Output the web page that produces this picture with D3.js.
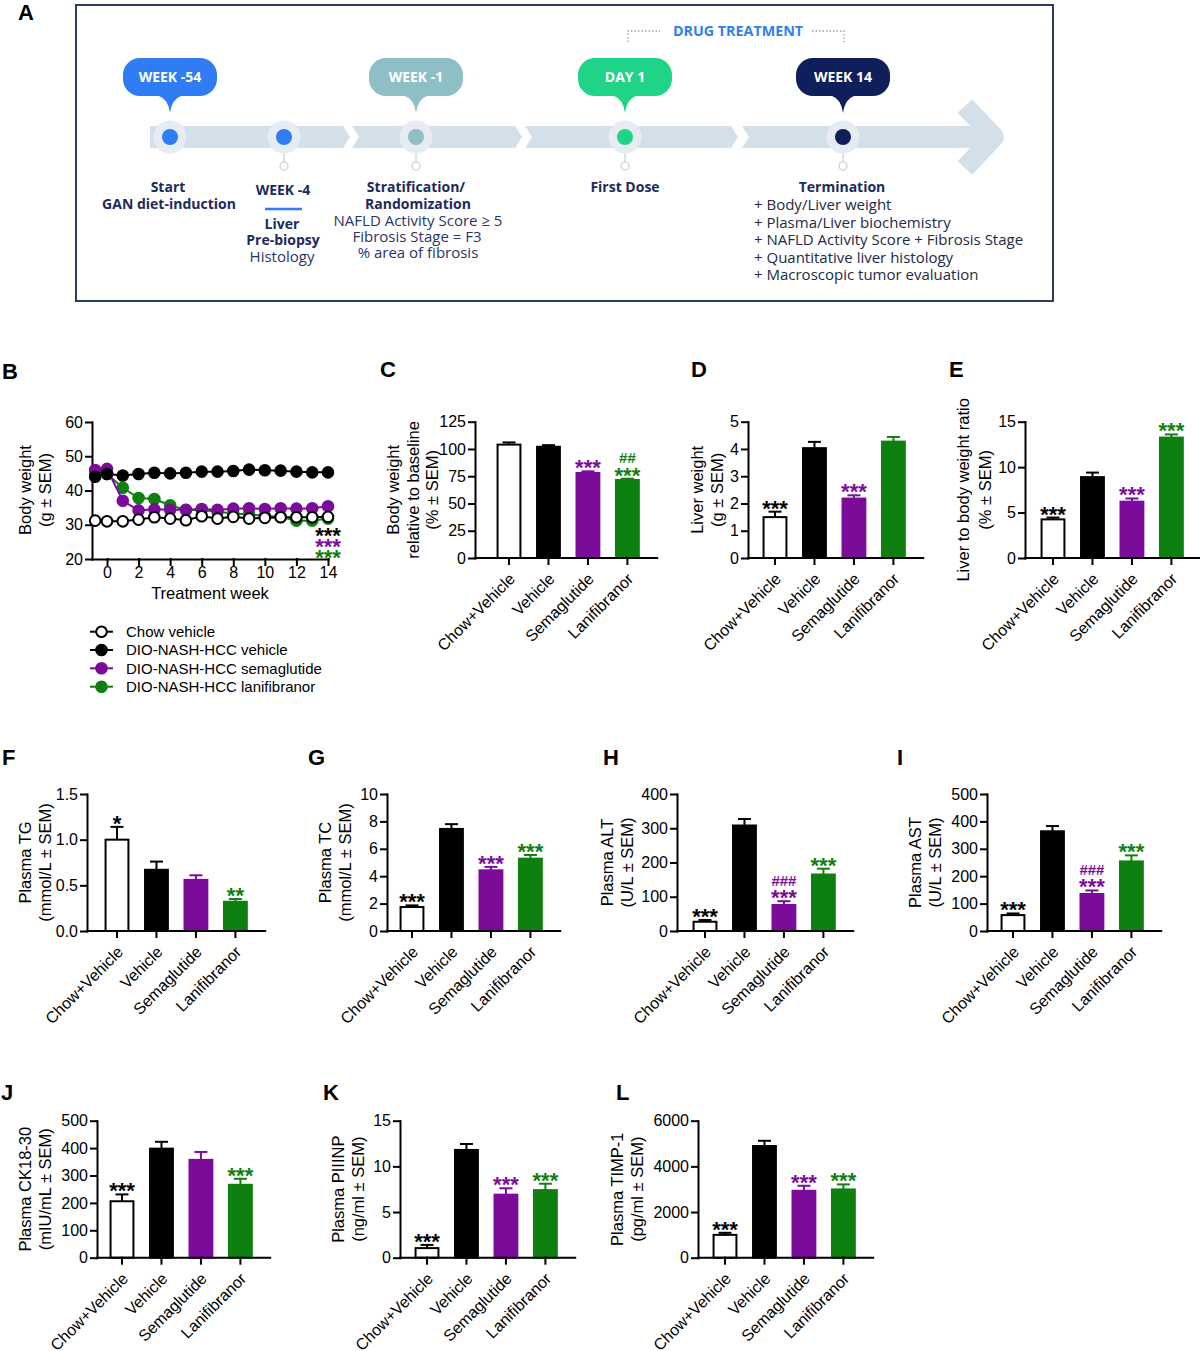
<!DOCTYPE html>
<html><head><meta charset="utf-8">
<script src="https://cdn.jsdelivr.net/npm/d3@7"></script>
<style>body{margin:0;background:#fff} svg{display:block}</style>
</head><body>
<svg id="fig" width="1200" height="1351"></svg>
<script>
// ---------------- DATA ----------------
const groups = ["Chow+Vehicle","Vehicle","Semaglutide","Lanifibranor"];

// Panel A timeline
const bubbleLabels = ["WEEK -54","WEEK -1","DAY 1","WEEK 14"];
const drugTreatment = "DRUG TREATMENT";
const terminationItems = ["+ Body/Liver weight","+ Plasma/Liver biochemistry","+ NAFLD Activity Score + Fibrosis Stage",
   "+ Quantitative liver histology","+ Macroscopic tumor evaluation"];

// Panel B
const weeks = [-0.75,0,1,2,3,4,5,6,7,8,9,10,11,12,13,14];
const bwChow    = [31.2,31.0,31.0,31.5,32.2,31.8,31.3,32.5,31.8,32.3,31.8,32.0,32.2,32.2,32.2,32.3];
const bwVehicle = [44.0,44.8,44.4,44.8,45.2,45.0,45.2,45.5,45.5,45.7,46.1,45.9,45.8,45.5,45.3,45.3];
const bwSema    = [46.0,46.3,37.0,34.2,34.5,34.4,34.4,34.6,34.4,34.7,34.8,34.6,34.8,34.7,34.8,35.4];
const bwLani    = [45.0,44.8,40.8,37.8,37.5,35.7,34.3,34.3,33.8,33.3,33.0,32.6,32.3,31.2,31.2,31.8];
const bwTicksY = [20,30,40,50,60];
const bwTicksX = [0,2,4,6,8,10,12,14];
const legendLabels = ["Chow vehicle","DIO-NASH-HCC vehicle","DIO-NASH-HCC semaglutide","DIO-NASH-HCC lanifibranor"];

// Panel C
const relBW = [104, 102, 78, 71.5];
const relBWErr = [2.0, 1.5, 1.5, 1.2];
const relBWTicks = [0,25,50,75,100,125];
const relBWSig = ["","","***","***"];
const relBWHash = ["","","","##"];
// Panel D
const liverW = [1.5, 4.03, 2.18, 4.27];
const liverWErr = [0.2, 0.23, 0.12, 0.17];
const liverWTicks = [0,1,2,3,4,5];
const liverWSig = ["***","","***",""];
// Panel E
const liverRatio = [4.25, 8.9, 6.2, 13.25];
const liverRatioErr = [0.2, 0.5, 0.35, 0.35];
const liverRatioTicks = [0,5,10,15];
const liverRatioSig = ["***","","***","***"];
// Panel F
const tg = [1.0, 0.67, 0.56, 0.32];
const tgErr = [0.14, 0.09, 0.05, 0.03];
const tgTicks = [0,0.5,1.0,1.5];
const tgSig = ["*","","","**"];
// Panel G
const tc = [1.75, 7.45, 4.43, 5.28];
const tcErr = [0.12, 0.35, 0.25, 0.27];
const tcTicks = [0,2,4,6,8,10];
const tcSig = ["***","","***","***"];
// Panel H
const alt = [27, 308, 76, 165];
const altErr = [5, 19, 11, 17];
const altTicks = [0,100,200,300,400];
const altSig = ["***","","***","***"];
const altHash = ["","","###",""];
// Panel I
const ast = [58, 364, 135, 254];
const astErr = [6, 19, 13, 22];
const astTicks = [0,100,200,300,400,500];
const astSig = ["***","","***","***"];
const astHash = ["","","###",""];
// Panel J
const ck18 = [206, 398, 357, 266];
const ck18Err = [25, 25, 29, 22];
const ck18Ticks = [0,100,200,300,400,500];
const ck18Sig = ["***","","","***"];
// Panel K
const piiinp = [1.05, 11.8, 6.9, 7.4];
const piiinpErr = [0.35, 0.65, 0.7, 0.7];
const piiinpTicks = [0,5,10,15];
const piiinpSig = ["***","","***","***"];
// Panel L
const timp = [1000, 4890, 2930, 2990];
const timpErr = [90, 230, 220, 220];
const timpTicks = [0,2000,4000,6000];
const timpSig = ["***","","***","***"];

// ---------------- STYLE ----------------
const svg = d3.select("#fig");
const FONT = "'Liberation Sans', Arial, Helvetica, sans-serif";
const AFONT = "'Open Sans', 'Noto Sans', sans-serif";
const PURPLE = "#7B0C9A", GREEN = "#0E800F";
const fills = ["#ffffff","#000000",PURPLE,GREEN];
const inks = ["#000000","#000000",PURPLE,GREEN];
const NAVY = "#1c2a5c";

function letter(t,x,y){
  svg.append("text").attr("x",x).attr("y",y).text(t)
    .attr("font-family",FONT).attr("font-weight","bold").attr("font-size",22).attr("fill","#000");
}

// ---------------- PANEL A ----------------
(function(){
  const g = svg.append("g");
  letter("A",18,20);
  g.append("rect").attr("x",76).attr("y",5).attr("width",977).attr("height",296)
    .attr("fill","none").attr("stroke","#2b3b66").attr("stroke-width",2);
  const BAND = "#d4e0e9", HALO = "#e6ecf1";
  const y0 = 126, y1 = 148, ym = 137, n = 7;
  const segs = [[150,350,false],[352,522,true],[525,738,true],[742,985,true]];
  segs.forEach(([a,b,notch],i)=>{
    const last = i===segs.length-1;
    const pts = [[a,y0],[last?b:b-n,y0],[b,last?y0:ym],[last?b:b-n,y1],[a,y1]];
    if(notch) pts.push([a+n,ym]);
    g.append("polygon").attr("points",pts.map(p=>p.join(",")).join(" ")).attr("fill",BAND);
  });
  g.append("path").attr("d","M965,106 L994,137 L965,168").attr("fill","none")
    .attr("stroke",BAND).attr("stroke-width",20).attr("stroke-linejoin","round");

  // drug treatment bracket
  ["M628,42 V31 H660","M812,31 H844 V42"].forEach(d=>{
    g.append("path").attr("d",d).attr("fill","none").attr("stroke","#9aa3ad")
      .attr("stroke-width",1.3).attr("stroke-dasharray","1.5,2");
  });
  g.append("text").attr("x",738).attr("y",35.5).attr("text-anchor","middle").text(drugTreatment)
    .attr("font-family",AFONT).attr("font-weight","bold").attr("font-size",14.3).attr("fill","#2f80ed");

  // milestone dots
  const dots = [[170,"#2f7cf4",false],[284,"#2f7cf4",true],[416,"#8ebfc6",true],[625,"#1fd487",true],[843,"#0f1f5c",true]];
  dots.forEach(([x,c,stem])=>{
    if(stem){
      g.append("line").attr("x1",x).attr("x2",x).attr("y1",152).attr("y2",162).attr("stroke","#cfd8e0").attr("stroke-width",1.5);
      g.append("circle").attr("cx",x).attr("cy",166).attr("r",4).attr("fill","#fff").attr("stroke","#cfd8e0").attr("stroke-width",1.5);
    }
    g.append("circle").attr("cx",x).attr("cy",ym).attr("r",16.5).attr("fill",HALO);
    g.append("circle").attr("cx",x).attr("cy",ym).attr("r",8).attr("fill",c);
  });

  // bubbles
  const bub = [[170,"#2f7cf4"],[416,"#8ebfc6"],[625,"#1fd487"],[843,"#0f1f5c"]];
  bub.forEach(([cx,c],i)=>{
    const w=94,h=38,r=17,x0=cx-w/2,yT=58,yB=yT+h;
    const d = `M${x0+r},${yT} H${x0+w-r} A${r},${r} 0 0 1 ${x0+w},${yT+r} V${yB-r} A${r},${r} 0 0 1 ${x0+w-r},${yB}
      H${cx+11} Q${cx+2},${yB+3} ${cx},${yB+17} Q${cx-2},${yB+3} ${cx-11},${yB}
      H${x0+r} A${r},${r} 0 0 1 ${x0},${yB-r} V${yT+r} A${r},${r} 0 0 1 ${x0+r},${yT} Z`;
    g.append("path").attr("d",d).attr("fill",c);
    g.append("text").attr("x",cx).attr("y",82).attr("text-anchor","middle").text(bubbleLabels[i])
      .attr("font-family",AFONT).attr("font-weight","bold").attr("font-size",14).attr("fill","#fff");
  });

  // labels
  const T = (x,y,t,bold,anchor="middle",col=NAVY)=>g.append("text").attr("x",x).attr("y",y).text(t)
    .attr("text-anchor",anchor).attr("font-family",AFONT).attr("font-size",bold?14:15)
    .attr("font-weight",bold?"bold":"normal").attr("fill",col);
  T(168,192,"Start",true); T(169,208.5,"GAN diet-induction",true);
  T(283,194.5,"WEEK -4",true);
  g.append("line").attr("x1",265).attr("x2",302).attr("y1",209).attr("y2",209).attr("stroke","#2f7cf4").attr("stroke-width",2.5);
  T(282,228.5,"Liver",true); T(283,245,"Pre-biopsy",true); T(282,261.5,"Histology",false,"middle","#2a3563");
  T(416,192,"Stratification/",true); T(418,208.5,"Randomization",true);
  T(418,225.5,"NAFLD Activity Score \u2265 5",false,"middle","#2a3563");
  T(417,242,"Fibrosis Stage = F3",false,"middle","#2a3563");
  T(418,258,"% area of fibrosis",false,"middle","#2a3563");
  T(625,192,"First Dose",true);
  T(842,192,"Termination",true);
  terminationItems.forEach((t,i)=>T(754,210+i*17.5,t,false,"start","#222a45"));
})();

// ---------------- PANEL B ----------------
(function(){
  letter("B",2,379);
  const g = svg.append("g");
  const x = d3.scaleLinear().domain([-0.95,14]).range([92,328]);
  const y = d3.scaleLinear().domain([20,60]).range([559,422]);
  const ya = g.append("g").attr("transform","translate(92,0)")
    .call(d3.axisLeft(y).tickValues(bwTicksY).tickSize(6).tickSizeOuter(0).tickPadding(3));
  const xa = g.append("g").attr("transform","translate(0,559)")
    .call(d3.axisBottom(x).tickValues(bwTicksX).tickSize(6).tickSizeOuter(0).tickPadding(2));
  [ya,xa].forEach(a=>{
    a.selectAll("path,line").attr("stroke","#000").attr("stroke-width",2).attr("stroke-linecap","square");
    a.selectAll("text").attr("font-family",FONT).attr("font-size",16).attr("fill","#000");
  });
  g.append("text").attr("x",210).attr("y",599).attr("text-anchor","middle").text("Treatment week")
    .attr("font-family",FONT).attr("font-size",16.5);
  ["Body weight","(g \u00b1 SEM)"].forEach((t,i)=>
    g.append("text").attr("transform",`translate(${[25,45][i]},490) rotate(-90)`).attr("dy","0.35em")
      .attr("text-anchor","middle").text(t).attr("font-family",FONT).attr("font-size",16.5));
  const series = [bwChow,bwVehicle,bwSema,bwLani];
  const line = d3.line().x((d,i)=>x(weeks[i])).y(d=>y(d));
  [3,2,1,0].forEach(k=>{
    g.append("path").attr("d",line(series[k])).attr("fill","none").attr("stroke",inks[k]).attr("stroke-width",2);
    g.selectAll(null).data(series[k]).join("circle")
      .attr("cx",(d,i)=>x(weeks[i])).attr("cy",d=>y(d)).attr("r",5.3)
      .attr("fill",fills[k]).attr("stroke",inks[k]).attr("stroke-width",2);
  });
  [0,2,3].forEach((k,i)=>
    g.append("text").attr("x",x(14)).attr("y",543+i*11).attr("text-anchor","middle").text("***")
      .attr("font-family",FONT).attr("font-weight","bold").attr("font-size",22).attr("fill",inks[k]));
  // legend
  legendLabels.forEach((t,i)=>{
    const yy = [631.7,650,668.3,686.7][i];
    g.append("line").attr("x1",90).attr("x2",113).attr("y1",yy).attr("y2",yy).attr("stroke",inks[i]).attr("stroke-width",2);
    g.append("circle").attr("cx",101.5).attr("cy",yy).attr("r",5.3).attr("fill",fills[i]).attr("stroke",inks[i]).attr("stroke-width",2);
    g.append("text").attr("x",126).attr("y",yy).attr("dy","0.35em").text(t).attr("font-family",FONT).attr("font-size",15);
  });
})();

// ---------------- BAR PANELS ----------------
const fmtInt = d3.format("d"), fmt1 = d3.format(".1f");
const barPanels = [
  {L:"C",lx:380,ly:377,vals:relBW,errs:relBWErr,ticks:relBWTicks,sig:relBWSig,hash:relBWHash,ax:475,c0:509,top:421.7,bot:558,
   title:["Body weight","relative to baseline","(% \u00b1 SEM)"],tx:[393,413,432]},
  {L:"D",lx:691,ly:377,vals:liverW,errs:liverWErr,ticks:liverWTicks,sig:liverWSig,ax:748,c0:775,top:421.7,bot:558,
   title:["Liver weight","(g \u00b1 SEM)"],tx:[697,717]},
  {L:"E",lx:949,ly:377,vals:liverRatio,errs:liverRatioErr,ticks:liverRatioTicks,sig:liverRatioSig,ax:1025,c0:1053,top:421.7,bot:558,
   title:["Liver to body weight ratio","(% \u00b1 SEM)"],tx:[963,985]},
  {L:"F",lx:2,ly:765,vals:tg,errs:tgErr,ticks:tgTicks,sig:tgSig,ax:87,c0:117,top:794,bot:931,fmt:fmt1,
   title:["Plasma TG","(mmol/L \u00b1 SEM)"],tx:[25,45]},
  {L:"G",lx:308,ly:765,vals:tc,errs:tcErr,ticks:tcTicks,sig:tcSig,ax:387,c0:412,top:794,bot:931,
   title:["Plasma TC","(mmol/L \u00b1 SEM)"],tx:[325,345]},
  {L:"H",lx:603,ly:765,vals:alt,errs:altErr,ticks:altTicks,sig:altSig,hash:altHash,ax:677,c0:705,top:794,bot:931,
   title:["Plasma ALT","(U/L \u00b1 SEM)"],tx:[607,627]},
  {L:"I",lx:897,ly:765,vals:ast,errs:astErr,ticks:astTicks,sig:astSig,hash:astHash,ax:987,c0:1013,top:794,bot:931,
   title:["Plasma AST","(U/L \u00b1 SEM)"],tx:[915,935]},
  {L:"J",lx:1,ly:1100,vals:ck18,errs:ck18Err,ticks:ck18Ticks,sig:ck18Sig,ax:97,c0:122,top:1120.7,bot:1257.7,
   title:["Plasma CK18-30","(mIU/mL \u00b1 SEM)"],tx:[25,45]},
  {L:"K",lx:323,ly:1100,vals:piiinp,errs:piiinpErr,ticks:piiinpTicks,sig:piiinpSig,ax:400,c0:427,top:1120.7,bot:1257.7,
   title:["Plasma PIIINP","(ng/ml \u00b1 SEM)"],tx:[338,358]},
  {L:"L",lx:616,ly:1100,vals:timp,errs:timpErr,ticks:timpTicks,sig:timpSig,ax:698,c0:725,top:1120.7,bot:1257.7,
   title:["Plasma TIMP-1","(pg/ml \u00b1 SEM)"],tx:[617,637]},
];

function drawBar(p){
  letter(p.L,p.lx,p.ly);
  const g = svg.append("g");
  const y = d3.scaleLinear().domain([0,p.ticks[p.ticks.length-1]]).range([p.bot,p.top]);
  const bx = p.c0 - 29.8;
  const x = d3.scaleBand().domain(groups).range([bx,bx+178]).paddingInner(0.37).paddingOuter(0.44);
  const bw = x.bandwidth();
  groups.forEach((gr,i)=>{
    const cx = x(gr)+bw/2, yt = y(p.vals[i]+p.errs[i]);
    g.append("line").attr("x1",cx).attr("x2",cx).attr("y1",y(p.vals[i])).attr("y2",yt).attr("stroke",inks[i]).attr("stroke-width",2);
    g.append("line").attr("x1",cx-6.5).attr("x2",cx+6.5).attr("y1",yt).attr("y2",yt).attr("stroke",inks[i]).attr("stroke-width",2);
  });
  g.selectAll("rect.bar").data(groups).join("rect").attr("class","bar")
    .attr("x",d=>x(d)+1).attr("width",bw-2)
    .attr("y",(d,i)=>y(p.vals[i])).attr("height",(d,i)=>p.bot-y(p.vals[i]))
    .attr("fill",(d,i)=>fills[i]).attr("stroke",(d,i)=>inks[i]).attr("stroke-width",2);
  const ya = g.append("g").attr("transform",`translate(${p.ax},0)`)
    .call(d3.axisLeft(y).tickValues(p.ticks).tickSize(6).tickSizeOuter(0).tickPadding(3).tickFormat(p.fmt||fmtInt));
  const xa = g.append("g").attr("transform",`translate(0,${p.bot})`)
    .call(d3.axisBottom(x).tickSize(6).tickSizeOuter(0).tickFormat(""));
  xa.select("path.domain").attr("d",`M${p.ax},0H${bx+178}`);
  [ya,xa].forEach(a=>{
    a.selectAll("path,line").attr("stroke","#000").attr("stroke-width",2).attr("stroke-linecap","square");
    a.selectAll("text").attr("font-family",FONT).attr("font-size",16).attr("fill","#000");
  });
  groups.forEach(gr=>{
    const cx = x(gr)+bw/2;
    g.append("text").attr("transform",`translate(${cx+3},${p.bot+18}) rotate(-45)`).attr("dy","0.35em")
      .attr("text-anchor","end").text(gr).attr("font-family",FONT).attr("font-size",16);
  });
  const cy = (p.top+p.bot)/2;
  p.title.forEach((t,i)=>
    g.append("text").attr("transform",`translate(${p.tx[i]},${cy}) rotate(-90)`).attr("dy","0.35em")
      .attr("text-anchor","middle").text(t).attr("font-family",FONT).attr("font-size",16.5));
  groups.forEach((gr,i)=>{
    const cx = x(gr)+bw/2, base = y(p.vals[i]+p.errs[i])+4;
    if(p.sig[i]) g.append("text").attr("x",cx).attr("y",base).attr("text-anchor","middle").text(p.sig[i])
      .attr("font-family",FONT).attr("font-weight","bold").attr("font-size",22).attr("fill",inks[i]);
    if(p.hash && p.hash[i]) g.append("text").attr("x",cx).attr("y",base-19.5).attr("text-anchor","middle").text(p.hash[i])
      .attr("font-family",FONT).attr("font-weight","bold").attr("font-size",15).attr("fill",inks[i]);
  });
}
barPanels.forEach(drawBar);
</script>
</body></html>
